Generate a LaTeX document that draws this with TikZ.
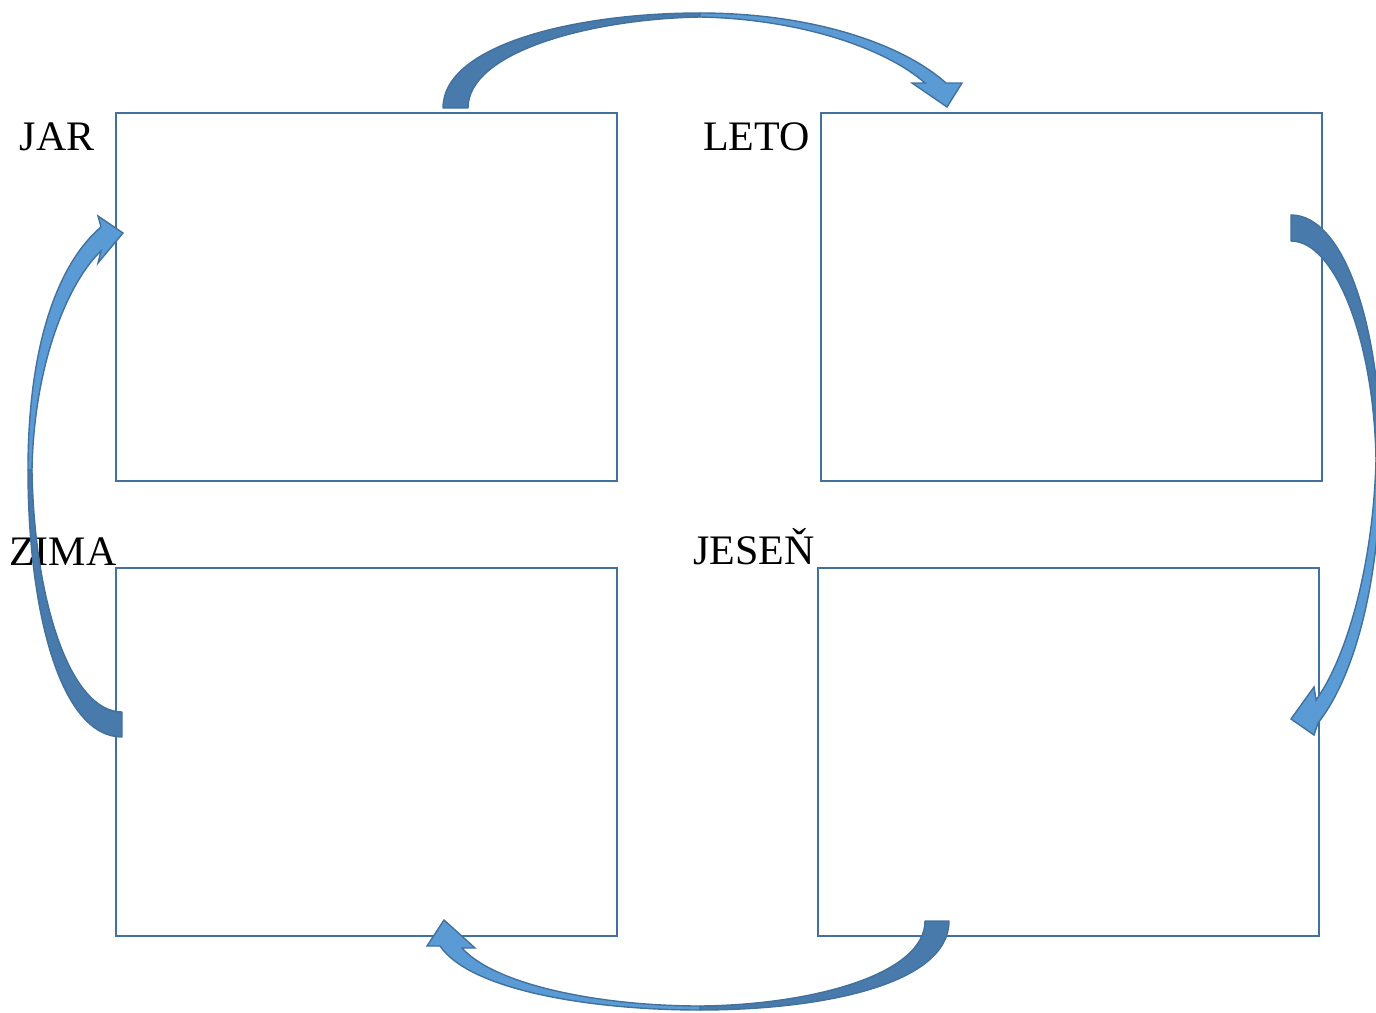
\documentclass[tikz,border=0pt]{standalone}
\usepackage{fontspec}
\setmainfont{Liberation Serif}
\usetikzlibrary{positioning}
\definecolor{boxline}{RGB}{65,113,156}
\definecolor{arrdark}{RGB}{72,122,172}
\definecolor{arrlight}{RGB}{91,155,213}

\begin{document}
\begin{tikzpicture}[x=0.5pt,y=-0.5pt]
      \tikzset{
        season/.style={draw=boxline, line width=1pt, rectangle, minimum width=250.5pt, minimum height=184pt, inner sep=0pt},
        lbl/.style={font=\fontsize{21}{25}\selectfont, inner sep=0pt, anchor=base east},
        back/.style={fill=arrdark, draw=boxline, line width=0.7pt, line join=round},
        front/.style={fill=arrlight, draw=boxline, line width=0.7pt},
      }
      \useasboundingbox (0,0) rectangle (1376,1012);
      \node [season] (jar) at (366.5,297) {};
      \node [season, right of=jar, node distance=352.5pt] (leto) {};
      \node [season, below of=jar, node distance=227.5pt] (zima) {};
      \node [season, right of=zima, node distance=351pt] (jesen) {};

      \node [lbl] (jarlbl) at (95,150) {JAR};
      \node [lbl] (letolbl) at (810,150) {LETO};
      \node [lbl] (zimalbl) at (117,565) {ZIMA};
      \node [lbl] (jesenlbl) at (815,564) {JESEŇ};

      % jar -> leto
      \path [back] (443,108) .. controls (443,45) and (575,13) .. (700,13) -- (700,17) .. controls (590,19) and (468,52) .. (468,108) -- cycle;
      \path [front] (700,13) .. controls (808,13) and (900,42) .. (946,83) -- (962,83) -- (947,107) -- (912,83) -- (925,83) .. controls (885,48) and (800,19) .. (700,17) -- cycle;
      % leto -> jesen
      \path [back] (1291,215) .. controls (1345,215) and (1381,330) .. (1381,460) -- (1376,460) .. controls (1374,340) and (1335,241) .. (1291,241) -- cycle;
      \path [front] (1381,460) .. controls (1380,590) and (1352,680) .. (1318,723) -- (1314,735) -- (1291,719) -- (1314,687) -- (1316,700) .. controls (1345,660) and (1373,570) .. (1376,460) -- cycle;
      % jesen -> zima
      \path [back] (949,921) .. controls (949,985) and (820,1010) .. (700,1010) -- (700,1006) .. controls (810,1005) and (925,975) .. (925,921) -- cycle;
      \path [front] (700,1010) .. controls (590,1010) and (470,990) .. (440,946) -- (427,946) -- (444,920) -- (475,948) -- (462,948) .. controls (495,985) and (600,1006) .. (700,1006) -- cycle;
      % zima -> jar
      \path [back] (122,737) .. controls (60,737) and (28,610) .. (28,470) -- (32,470) .. controls (34,600) and (70,712) .. (122,712) -- cycle;
      \path [front] (28,470) .. controls (28,340) and (60,262) .. (101,227) -- (98,216) -- (123,233) -- (98,263) -- (101,251) .. controls (70,280) and (34,360) .. (32,470) -- cycle;
\end{tikzpicture}
\end{document}
